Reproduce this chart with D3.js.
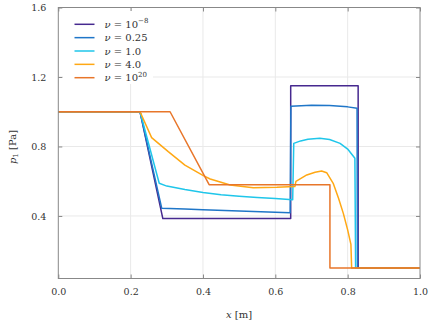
<!DOCTYPE html>
<html>
<head>
<meta charset="utf-8">
<script src="https://cdn.jsdelivr.net/npm/d3@7"></script>
<style>
  body { margin: 0; background: #fff; }
  text { font-family: "DejaVu Serif", serif; fill: #333; }
</style>
</head>
<body>
<div id="svg_area"></div>
<script>
// legend labels and colours
var nuBase = ["10", "0.25", "1.0", "4.0", "10"];
var nuSup = ["\u22128", "", "", "", "20"];
var colors = ["#46298f", "#1f76c8", "#1fc6ea", "#ffa814", "#e8762a"];

var xTicks = [0.0, 0.2, 0.4, 0.6, 0.8, 1.0];
var yTicks = [0.4, 0.8, 1.2, 1.6];

// nu = 1e-8
var x1 = [0, 0.226, 0.289, 0.6425, 0.6425, 0.829, 0.829, 1.0];
var p1 = [1.0, 1.0, 0.385, 0.385, 1.15, 1.15, 0.1, 0.1];

// nu = 0.25
var x2 = [0, 0.226, 0.286, 0.35, 0.4, 0.5, 0.6, 0.641, 0.643, 0.7, 0.75, 0.8, 0.826, 0.827, 1.0];
var p2 = [1.0, 1.0, 0.444, 0.440, 0.436, 0.428, 0.421, 0.419, 1.031, 1.038, 1.036, 1.028, 1.02, 0.1, 0.1];

// nu = 1.0
var x3 = [0, 0.226, 0.279, 0.30, 0.35, 0.40, 0.45, 0.50, 0.55, 0.60, 0.648, 0.651, 0.67, 0.69, 0.723, 0.75, 0.779, 0.80, 0.82, 0.822, 1.0];
var p3 = [1.0, 1.0, 0.588, 0.572, 0.552, 0.535, 0.522, 0.513, 0.506, 0.50, 0.493, 0.818, 0.832, 0.842, 0.847, 0.840, 0.818, 0.785, 0.732, 0.1, 0.1];

// nu = 4.0
var x4 = [0, 0.226, 0.258, 0.304, 0.35, 0.401, 0.42, 0.475, 0.539, 0.604, 0.654, 0.657, 0.687, 0.71, 0.728, 0.742, 0.76, 0.775, 0.788, 0.80, 0.809, 0.811, 1.0];
var p4 = [1.0, 1.0, 0.851, 0.770, 0.693, 0.632, 0.613, 0.578, 0.563, 0.565, 0.569, 0.599, 0.636, 0.652, 0.659, 0.649, 0.588, 0.50, 0.415, 0.32, 0.236, 0.1, 0.1];

// nu = 1e20
var x5 = [0, 0.309, 0.417, 0.751, 0.751, 1.0];
var p5 = [1.0, 1.0, 0.58, 0.58, 0.1, 0.1];

var seriesX = [x1, x2, x3, x4, x5];
var seriesP = [p1, p2, p3, p4, p5];

var svg = d3.select('#svg_area').append("svg").attr("width", 441).attr("height", 326);
var margin = {top: 7.5, right: 21, bottom: 47.5, left: 58.3};
var svg_width = 441 - margin.left - margin.right;
var svg_height = 326 - margin.top - margin.bottom;
var g = svg.append("g").attr("transform", "translate(" + margin.left + "," + margin.top + ")");

var scaleX = d3.scaleLinear().domain([0, 1]).range([0, svg_width]);
var scaleY = d3.scaleLinear().domain([0.04, 1.6]).range([svg_height, 0]);

// grid
g.selectAll(".xgrid").data(xTicks.slice(1, -1)).enter().append("line")
  .attr("x1", function(d){ return scaleX(d); })
  .attr("x2", function(d){ return scaleX(d); })
  .attr("y1", 0).attr("y2", svg_height)
  .attr("stroke", "#e9e9e9").attr("stroke-width", 1);
g.selectAll(".ygrid").data(yTicks.slice(0, -1)).enter().append("line")
  .attr("y1", function(d){ return scaleY(d); })
  .attr("y2", function(d){ return scaleY(d); })
  .attr("x1", 0).attr("x2", svg_width)
  .attr("stroke", "#e9e9e9").attr("stroke-width", 1);

// axes, ticks pointing inward on all four sides
function styleAxis(sel) {
  sel.select(".domain").remove();
  sel.selectAll(".tick line").attr("stroke", "#888");
  sel.selectAll(".tick text").attr("font-size", "9.5px");
}
g.append("g").attr("transform", "translate(0," + svg_height + ")")
  .call(d3.axisBottom(scaleX).tickValues(xTicks).tickFormat(d3.format(".1f")).tickSize(-4).tickPadding(10))
  .call(styleAxis);
g.append("g")
  .call(d3.axisTop(scaleX).tickValues(xTicks).tickSize(-4).tickFormat(""))
  .call(styleAxis);
g.append("g")
  .call(d3.axisLeft(scaleY).tickValues(yTicks).tickFormat(d3.format(".1f")).tickSize(-4).tickPadding(12))
  .call(styleAxis);
g.append("g").attr("transform", "translate(" + svg_width + ",0)")
  .call(d3.axisRight(scaleY).tickValues(yTicks).tickSize(-4).tickFormat(""))
  .call(styleAxis);
svg.selectAll("g").attr("font-family", null);

// curves
var line = d3.line()
  .x(function(d){ return scaleX(d[0]); })
  .y(function(d){ return scaleY(d[1]); });

for (var i = 0; i < 5; i++) {
  var pts = d3.zip(seriesX[i], seriesP[i]);
  g.append("path")
    .datum(pts)
    .attr("fill", "none")
    .attr("stroke", colors[i])
    .attr("stroke-width", 1.5)
    .attr("stroke-linejoin", "round")
    .attr("d", line);
}

// frame
g.append("rect")
  .attr("width", svg_width).attr("height", svg_height)
  .attr("fill", "none").attr("stroke", "#888").attr("stroke-width", 1);

// legend
var leg = svg.append("g");
leg.append("rect").attr("x", 63).attr("y", 11).attr("width", 90).attr("height", 73).attr("fill", "#fff");
for (var i = 0; i < 5; i++) {
  var ly = 24.3 + 13.35 * i;
  leg.append("line")
    .attr("x1", 74.5).attr("x2", 94.5).attr("y1", ly).attr("y2", ly)
    .attr("stroke", colors[i]).attr("stroke-width", 1.5);
  var t = leg.append("text").attr("x", 104.5).attr("y", ly + 3.5).attr("font-size", "10px");
  t.append("tspan").attr("font-style", "italic").text("\u03bd");
  t.append("tspan").text(" = " + nuBase[i]);
  if (nuSup[i] !== "") {
    t.append("tspan").attr("font-size", "7px").attr("dy", -4.5).text(nuSup[i]);
  }
}

// axis labels
var xl = svg.append("text").attr("x", 239).attr("y", 318).attr("text-anchor", "middle").attr("font-size", "10px");
xl.append("tspan").attr("font-style", "italic").text("x");
xl.append("tspan").text(" [m]");

var yl = svg.append("text").attr("transform", "translate(16,147) rotate(-90)")
  .attr("text-anchor", "middle").attr("font-size", "10px");
yl.append("tspan").attr("font-style", "italic").text("p");
yl.append("tspan").attr("font-size", "7px").attr("dy", 2).text("1");
yl.append("tspan").attr("dy", -2).text(" [Pa]");
</script>
</body>
</html>
